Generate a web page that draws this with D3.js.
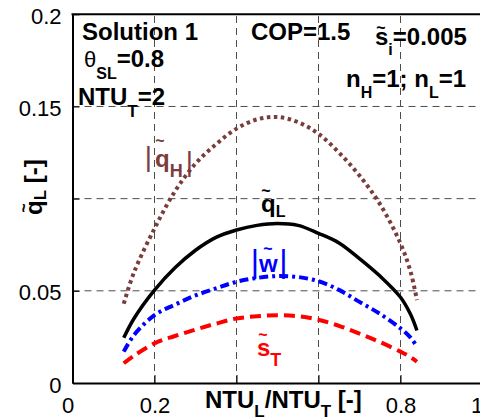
<!DOCTYPE html>
<html>
<head>
<meta charset="utf-8">
<script src="https://cdn.jsdelivr.net/npm/d3@7"></script>
<style>
  html, body { margin: 0; padding: 0; background: #fff; }
  svg { display: block; }
  text { font-family: "Liberation Sans", Arial, Helvetica, sans-serif; }
</style>
</head>
<body>
<svg id="chart" width="480" height="419"></svg>
<script>
// NTU_L / NTU_T ratio sampled along each curve
const ratio = [0.125, 0.15, 0.2, 0.25, 0.3, 0.35, 0.4, 0.45, 0.5, 0.55, 0.6, 0.65, 0.7, 0.75, 0.8, 0.825, 0.84];

// |q_H| (dimensionless heating load)
const qH = [0.043, 0.060, 0.0838, 0.104, 0.119, 0.1295, 0.138, 0.143, 0.1443, 0.1415, 0.1352, 0.125, 0.1125, 0.097, 0.0757, 0.060, 0.045];
// q_L (dimensionless cooling load)
const qL = [0.0245, 0.035, 0.0504, 0.0625, 0.072, 0.079, 0.083, 0.0855, 0.0865, 0.0855, 0.0812, 0.076, 0.0675, 0.058, 0.0465, 0.037, 0.0285];
// |w| (dimensionless work)
const wAbs = [0.017, 0.026, 0.0368, 0.0425, 0.0475, 0.0513, 0.0549, 0.057, 0.058, 0.0575, 0.0552, 0.0505, 0.044, 0.0375, 0.0296, 0.0245, 0.0197];
// s_T (total entropy generation)
const sT = [0.0107, 0.0148, 0.0215, 0.0255, 0.029, 0.0322, 0.035, 0.0362, 0.0368, 0.0362, 0.0343, 0.031, 0.0268, 0.0222, 0.017, 0.014, 0.0115];

// axis ticks
const xTicks = [0, 0.2, 0.4, 0.6, 0.8, 1];
const xTickLabels = ["0", "0.2", "", "", "0.8", "1"];
const yTicks = [0, 0.05, 0.1, 0.15, 0.2];
const yTickLabels = ["0", "0.05", "", "0.15", "0.2"];
const xGrid = [0.2, 0.4, 0.6, 0.8];
const yGrid = [0.05, 0.1, 0.15];

const svg = d3.select("#chart");
const x = d3.scaleLinear().domain([0, 1]).range([72.5, 482.5]);
const y = d3.scaleLinear().domain([0, 0.2]).range([383, 14.3]);

// grid
const grid = svg.append("g").attr("stroke", "#4d4d4d").attr("stroke-width", 1)
  .attr("stroke-dasharray", "7,5");
grid.selectAll(".gx").data(xGrid).join("line")
  .attr("x1", d => x(d)).attr("x2", d => x(d))
  .attr("y1", y(0)).attr("y2", y(0.2));
grid.selectAll(".gy").data(yGrid).join("line")
  .attr("x1", x(0)).attr("x2", x(1))
  .attr("y1", d => y(d)).attr("y2", d => y(d));

// axes
const xAxis = svg.append("g").attr("transform", `translate(0,${y(0)})`)
  .call(d3.axisBottom(x).tickValues(xTicks)
    .tickFormat((d, i) => xTickLabels[i])
    .tickSizeInner(-8).tickSizeOuter(0));
const yAxis = svg.append("g").attr("transform", `translate(${x(0)},0)`)
  .call(d3.axisLeft(y).tickValues(yTicks)
    .tickFormat((d, i) => yTickLabels[i])
    .tickSizeInner(-7).tickSizeOuter(0));
[xAxis, yAxis].forEach(g => {
  g.select(".domain").attr("stroke", "#000").attr("stroke-width", 2);
  g.selectAll(".tick line").attr("stroke", "#000").attr("stroke-width", 1);
  g.selectAll("text").attr("font-family", "Liberation Sans, Arial, sans-serif")
    .attr("font-size", 22).attr("fill", "#000");
});
// end labels sit slightly inward of their ticks
xAxis.selectAll("text").attr("y", 30).attr("dy", null)
  .attr("dx", d => d === 0 ? -5 : d === 1 ? -6 : 0);
yAxis.selectAll("text").attr("x", -11).attr("y", 9).attr("dy", null);

// top frame line
svg.append("line").attr("x1", x(0) - 1).attr("x2", x(1))
  .attr("y1", y(0.2)).attr("y2", y(0.2))
  .attr("stroke", "#000").attr("stroke-width", 2);

// curves
const line = vals => d3.line()
  .x((d, i) => x(ratio[i]))
  .y(d => y(d))
  .curve(d3.curveCatmullRom.alpha(0.5))(vals);

const series = [
  { vals: qH, color: "#7b3c3c", width: 4, dash: "3.5,3.5" },
  { vals: sT, color: "#ff0000", width: 4, dash: "11,6" },
  { vals: wAbs, color: "#0000ff", width: 4, dash: "9,4,3,4" },
  { vals: qL, color: "#000000", width: 3.5, dash: null }
];
svg.append("g").selectAll("path").data(series).join("path")
  .attr("d", s => line(s.vals))
  .attr("fill", "none")
  .attr("stroke", s => s.color)
  .attr("stroke-width", s => s.width)
  .attr("stroke-dasharray", s => s.dash);

// text helper: runs of [text, size, dy, weight]
function label(parent, px, py, runs, color, anchor) {
  const t = parent.append("text").attr("x", px).attr("y", py)
    .attr("fill", color || "#000").attr("text-anchor", anchor || "start");
  runs.forEach(([s, size, dy, weight]) => {
    t.append("tspan").text(s).attr("font-size", size)
      .attr("dy", dy || 0).attr("font-weight", weight || "bold");
  });
  return t;
}
function tilde(parent, cx, cy, color) {
  parent.append("text").attr("x", cx).attr("y", cy)
    .attr("text-anchor", "middle").attr("dominant-baseline", "middle")
    .attr("font-size", 16).attr("font-weight", "bold")
    .attr("fill", color || "#000").text("~");
}
function bar(parent, cx, by, color, size) {
  parent.append("text").attr("x", cx).attr("y", by)
    .attr("text-anchor", "middle").attr("font-size", size || 28)
    .attr("fill", color).text("|");
}

const ann = svg.append("g");
label(ann, 82, 40, [["Solution 1", 24]]);
label(ann, 84, 67, [["θ", 22, 0, "normal"], ["SL", 16, 12], ["=0.8", 24, -12]]);
label(ann, 78, 105, [["NTU", 24], ["T", 17, 12], ["=2", 24, -12]]);
label(ann, 251, 40, [["COP=1.5", 24]]);
label(ann, 375, 45, [["s", 24], ["i", 16, 10], ["=0.005", 24, -10]]);
tilde(ann, 381, 29);
label(ann, 346, 87, [["n", 24], ["H", 16, 11], ["=1; n", 24, -11], ["L", 16, 11], ["=1", 24, -11]]);

// curve labels
const brown = "#7b3c3c";
bar(ann, 148.5, 166, brown);
label(ann, 155, 167, [["q", 24], ["H", 18, 10]], brown);
tilde(ann, 160, 142, brown);
bar(ann, 189.5, 171, brown);

label(ann, 261, 212, [["q", 24], ["L", 16, 5]]);
tilde(ann, 266, 192);

bar(ann, 255, 272, "#0000ff", 32);
label(ann, 259, 272, [["w", 24]], "#0000ff");
tilde(ann, 268, 250, "#0000ff");
bar(ann, 283.5, 272, "#0000ff", 32);

label(ann, 257, 356, [["s", 24], ["T", 18, 10]], "#ff0000");
tilde(ann, 263, 336, "#ff0000");

// axis titles
label(ann, 205, 408, [["NTU", 24], ["L", 17, 9], ["/NTU", 24, -9], ["T", 17, 9], [" [-]", 24, -9]]);
const yt = ann.append("g").attr("transform", "translate(42,215) rotate(-90)");
label(yt, 0, 0, [["q", 24], ["L", 17, 4], [" [-]", 24, -4]]);
tilde(yt, 7, -17);
</script>
</body>
</html>
